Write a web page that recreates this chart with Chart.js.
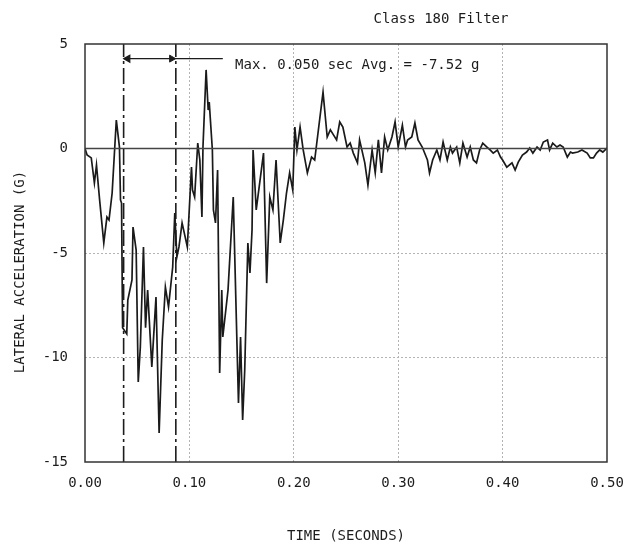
<!DOCTYPE html>
<html>
<head>
<meta charset="utf-8">
<script src="https://cdn.jsdelivr.net/npm/chart.js@4.4.1/dist/chart.umd.min.js"></script>
<style>
  html, body { margin: 0; padding: 0; background: #fff; }
  canvas { display: block; }
</style>
</head>
<body>
<canvas id="graficoAceleracao" width="628" height="548"></canvas>
<script>
// time base (seconds) and lateral acceleration (g)
const timeSec = [0.000,0.002,0.006,0.009,0.011,0.014,0.018,0.021,0.023,0.026,
  0.030,0.033,0.034,0.035,0.036,0.040,0.041,0.045,0.046,0.049,
  0.051,0.053,0.056,0.058,0.060,0.064,0.068,0.071,0.074,0.077,
  0.080,0.084,0.086,0.088,0.090,0.093,0.098,0.100,0.102,0.103,
  0.105,0.108,0.110,0.112,0.113,0.116,0.118,0.119,0.122,0.123,
  0.125,0.127,0.129,0.131,0.132,0.137,0.142,0.147,0.149,0.151,
  0.153,0.156,0.158,0.160,0.161,0.164,0.171,0.174,0.177,0.180,
  0.183,0.187,0.190,0.193,0.196,0.199,0.201,0.203,0.206,0.209,
  0.213,0.217,0.220,0.228,0.232,0.235,0.238,0.241,0.244,0.247,
  0.251,0.254,0.257,0.261,0.263,0.268,0.271,0.275,0.278,0.281,
  0.284,0.287,0.290,0.294,0.297,0.300,0.304,0.307,0.309,0.313,
  0.316,0.319,0.323,0.328,0.330,0.333,0.337,0.340,0.343,0.347,
  0.350,0.352,0.356,0.359,0.362,0.366,0.369,0.372,0.375,0.378,
  0.381,0.385,0.388,0.391,0.395,0.398,0.400,0.404,0.409,0.412,
  0.415,0.419,0.423,0.426,0.429,0.433,0.436,0.439,0.443,0.445,
  0.448,0.452,0.455,0.458,0.462,0.465,0.467,0.472,0.476,0.481,
  0.484,0.487,0.490,0.493,0.496,0.500];

const accelG = [0.0,-0.31,-0.45,-1.65,-0.79,-2.46,-4.52,-3.28,-3.42,-2.13,
  1.36,0.07,-2.46,-2.61,-8.58,-8.87,-7.25,-6.29,-3.76,-4.86,
  -11.17,-9.50,-4.71,-8.58,-6.77,-10.45,-7.11,-13.61,-9.16,-6.63,
  -7.58,-5.67,-3.09,-5.19,-4.71,-3.56,-4.71,-2.80,-0.89,-1.99,
  -2.32,0.26,-0.55,-3.28,0.07,3.76,1.84,2.22,-0.07,-2.94,
  -3.56,-1.03,-10.74,-6.77,-9.02,-6.77,-2.32,-12.18,-9.02,-12.99,
  -10.60,-4.52,-5.96,-3.90,-0.07,-2.94,-0.22,-6.44,-2.32,-2.94,
  -0.55,-4.52,-3.42,-2.13,-1.17,-1.99,1.03,-0.07,1.03,-0.07,
  -1.17,-0.41,-0.55,2.70,0.55,0.89,0.65,0.41,1.27,1.03,
  0.07,0.26,-0.22,-0.69,0.41,-0.69,-1.75,-0.07,-1.17,0.41,
  -1.17,0.55,-0.07,0.55,1.27,0.07,1.12,0.07,0.41,0.55,
  1.22,0.41,0.07,-0.55,-1.17,-0.55,-0.07,-0.55,0.31,-0.55,
  0.07,-0.22,0.07,-0.69,0.26,-0.41,0.07,-0.55,-0.69,-0.07,
  0.26,0.07,-0.07,-0.22,-0.07,-0.41,-0.55,-0.89,-0.69,-1.03,
  -0.65,-0.31,-0.17,0.02,-0.22,0.07,-0.07,0.31,0.41,-0.07,
  0.26,0.07,0.17,0.07,-0.41,-0.17,-0.22,-0.17,-0.07,-0.22,
  -0.45,-0.45,-0.22,-0.07,-0.17,0.02];

// 0.050 s averaging window
const windowStart = 0.037;
const windowEnd = 0.087;
const arrowLevel = 4.3;
const arrowTailEnd = 0.132;

const xTicks = [0, 0.1, 0.2, 0.3, 0.4, 0.5];
const yTicks = [5, 0, -5, -10, -15];

const chartTitle = 'Class 180 Filter';
const noteText = 'Max. 0.050 sec Avg. = -7.52 g';
const xTitle = 'TIME (SECONDS)';
const yTitle = 'LATERAL ACCELERATION (G)';

const FONT = '"DejaVu Sans Mono", "Liberation Mono", monospace';
const INK = '#1c1c1c';

document.addEventListener('DOMContentLoaded', function() {
    const ctx = document.getElementById('graficoAceleracao').getContext('2d');

    const serie = timeSec.map((t, i) => ({ x: t, y: accelG[i] }));

    // frame + free text (title, note, y axis title)
    const textoPlugin = {
        id: 'textoPlugin',
        afterDraw(chart) {
            const c = chart.ctx;
            const a = chart.chartArea;
            const xs = chart.scales.x;
            const ys = chart.scales.y;
            c.save();
            c.strokeStyle = '#333';
            c.lineWidth = 1.5;
            c.strokeRect(a.left, a.top, a.right - a.left, a.bottom - a.top);

            c.fillStyle = INK;
            c.font = '14px ' + FONT;
            c.textBaseline = 'middle';
            c.textAlign = 'center';
            c.fillText(chartTitle, 441, 19);

            c.textAlign = 'left';
            c.fillText(noteText, xs.getPixelForValue(0.1437), ys.getPixelForValue(4.0));

            c.translate(20, 272);
            c.rotate(-Math.PI / 2);
            c.textAlign = 'center';
            c.fillText(yTitle, 0, 0);
            c.restore();
        }
    };

    new Chart(ctx, {
        type: 'line',
        data: {
            datasets: [
                {
                    // arrow across the window, tail running to the note
                    data: [{ x: windowStart + 0.004, y: arrowLevel }, { x: arrowTailEnd, y: arrowLevel }],
                    borderColor: INK,
                    backgroundColor: INK,
                    borderWidth: 1.2,
                    pointStyle: 'triangle',
                    pointRadius: [4, 0],
                    pointRotation: [-90, 0]
                },
                {
                    data: [{ x: windowEnd - 0.004, y: arrowLevel }],
                    borderColor: INK,
                    backgroundColor: INK,
                    showLine: false,
                    pointStyle: 'triangle',
                    pointRadius: 4,
                    pointRotation: 90
                },
                {
                    data: [{ x: windowStart, y: -15 }, { x: windowStart, y: 5 }],
                    borderColor: INK,
                    borderWidth: 1.6,
                    borderDash: [16, 4, 3, 4],
                    pointRadius: 0
                },
                {
                    data: [{ x: windowEnd, y: -15 }, { x: windowEnd, y: 5 }],
                    borderColor: INK,
                    borderWidth: 1.6,
                    borderDash: [16, 4, 3, 4],
                    pointRadius: 0
                },
                {
                    // zero reference line
                    data: [{ x: 0, y: 0 }, { x: 0.5, y: 0 }],
                    borderColor: '#444',
                    borderWidth: 1.5,
                    pointRadius: 0
                },
                {
                    label: yTitle,
                    data: serie,
                    borderColor: '#1a1a1a',
                    borderWidth: 1.7,
                    pointRadius: 0,
                    tension: 0
                }
            ]
        },
        options: {
            responsive: false,
            animation: false,
            layout: { padding: { top: 44, right: 21, left: 0, bottom: 0 } },
            plugins: {
                legend: { display: false },
                tooltip: { enabled: false }
            },
            scales: {
                x: {
                    type: 'linear',
                    min: 0,
                    max: 0.5,
                    afterBuildTicks: s => { s.ticks = xTicks.map(v => ({ value: v })); },
                    afterFit: s => { s.height = 86; s.paddingLeft = 0; s.paddingRight = 0; },
                    ticks: {
                        padding: 13,
                        color: INK,
                        font: { family: FONT, size: 14 },
                        maxRotation: 0,
                        callback: v => Number(v).toFixed(2)
                    },
                    grid: {
                        drawTicks: false,
                        lineWidth: 1,
                        color: c => (c.tick && (c.tick.value < 0.01 || c.tick.value > 0.49)) ? 'transparent' : '#b4b4b4'
                    },
                    border: { display: false, dash: [2, 2] },
                    title: {
                        display: true,
                        text: xTitle,
                        color: INK,
                        font: { family: FONT, size: 14 },
                        padding: { top: 0, bottom: 3 }
                    }
                },
                y: {
                    type: 'linear',
                    min: -15,
                    max: 5,
                    afterBuildTicks: s => { s.ticks = yTicks.map(v => ({ value: v })); },
                    afterFit: s => { s.width = 85; s.paddingTop = 0; s.paddingBottom = 0; },
                    ticks: {
                        padding: 17,
                        color: INK,
                        font: { family: FONT, size: 14 }
                    },
                    grid: {
                        drawTicks: false,
                        lineWidth: 1,
                        color: c => (c.tick && (c.tick.value === -5 || c.tick.value === -10)) ? '#b4b4b4' : 'transparent'
                    },
                    border: { display: false, dash: [2, 2] }
                }
            }
        },
        plugins: [textoPlugin]
    });
});
</script>
</body>
</html>
